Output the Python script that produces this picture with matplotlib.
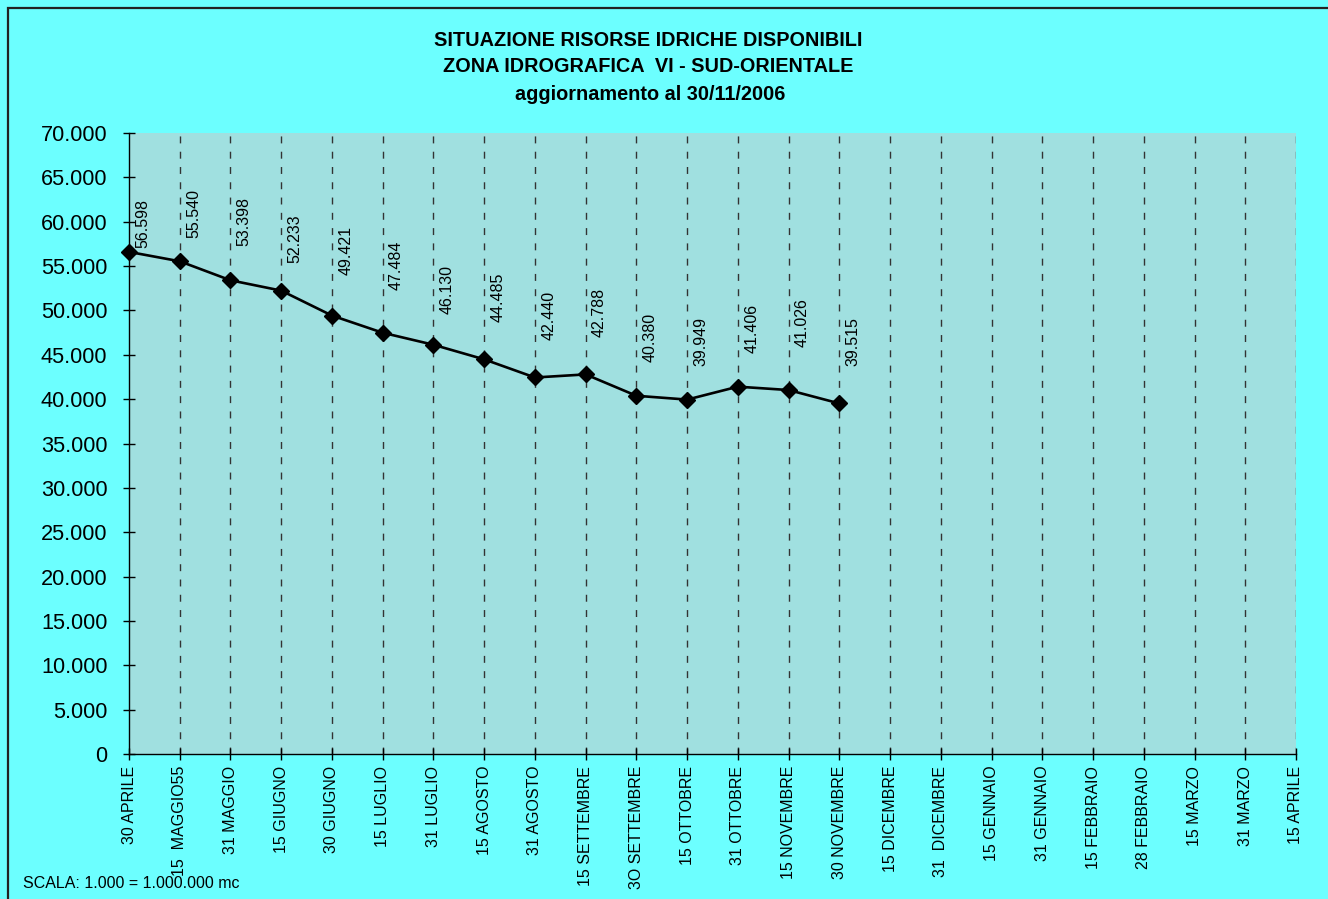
import matplotlib
matplotlib.use('Agg')
import matplotlib.pyplot as plt
from matplotlib.patches import Rectangle
from matplotlib.ticker import FixedLocator, FuncFormatter

plt.rcParams['font.family'] = ['Liberation Sans', 'DejaVu Sans']

# date di rilevazione (asse x)
date_labels = [
    '30 APRILE', '15  MAGGIO55', '31 MAGGIO', '15 GIUGNO', '30 GIUGNO',
    '15 LUGLIO', '31 LUGLIO', '15 AGOSTO', '31 AGOSTO', '15 SETTEMBRE',
    '3O SETTEMBRE', '15 OTTOBRE', '31 OTTOBRE', '15 NOVEMBRE', '30 NOVEMBRE',
    '15 DICEMBRE', '31  DICEMBRE', '15 GENNAIO', '31 GENNAIO', '15 FEBBRAIO',
    '28 FEBBRAIO', '15 MARZO', '31 MARZO', '15 APRILE',
]

# volumi disponibili (scala 1.000 = 1.000.000 mc)
volumi = [56.598, 55.540, 53.398, 52.233, 49.421, 47.484, 46.130, 44.485,
          42.440, 42.788, 40.380, 39.949, 41.406, 41.026, 39.515]

# spostamento verticale delle etichette (punti), come nel foglio originale
label_dy = [3, 17, 25, 20, 29, 31, 22, 27, 27, 27, 24, 24, 24, 31, 27]

FIG_BG = '#6CFFFF'
PLOT_BG = '#A0E0E0'

fig = plt.figure(figsize=(13.28, 8.99), dpi=100, facecolor=FIG_BG)
ax = fig.add_axes([129 / 1328, 1 - 754 / 899, (1296 - 129) / 1328, (754 - 133) / 899])
ax.set_facecolor(PLOT_BG)

xs = list(range(len(date_labels)))

# griglia verticale tratteggiata
for x in xs[1:]:
    ax.axvline(x, color='#333333', lw=1.0, linestyle=(0, (5, 6)), zorder=1)

ax.plot(xs[:len(volumi)], volumi, color='black', lw=1.9, marker='D',
        markersize=8.5, clip_on=False, zorder=3)

for x, v, dy in zip(xs, volumi, label_dy):
    ax.annotate(f'{v:.3f}', (x, v), xytext=(10, dy), textcoords='offset points',
                rotation=90, ha='center', va='bottom', fontsize=11.5)

ax.set_xlim(0, len(date_labels) - 1)
ax.set_ylim(0, 70)
ax.yaxis.set_major_locator(FixedLocator(range(0, 71, 5)))
ax.yaxis.set_major_formatter(FuncFormatter(lambda v, p: '0' if v == 0 else f'{v:.3f}'))
ax.set_xticks(xs)
ax.set_xticklabels(date_labels, rotation=90, va='top', ha='center', fontsize=11.5)

for s in ['top', 'right']:
    ax.spines[s].set_visible(False)
for s in ['left', 'bottom']:
    ax.spines[s].set_color('black')
    ax.spines[s].set_linewidth(1.0)

ax.tick_params(axis='y', direction='inout', length=9, width=1, labelsize=15.7, pad=11)
ax.tick_params(axis='x', direction='inout', length=9, width=1, pad=4)

fig.text(648 / 1328, 1 - 40 / 899, 'SITUAZIONE RISORSE IDRICHE DISPONIBILI',
         ha='center', va='center', fontsize=14.3, fontweight='bold')
fig.text(648 / 1328, 1 - 67 / 899, 'ZONA IDROGRAFICA  VI - SUD-ORIENTALE',
         ha='center', va='center', fontsize=14.3, fontweight='bold')
fig.text(650 / 1328, 1 - 95 / 899, 'aggiornamento al 30/11/2006',
         ha='center', va='center', fontsize=14.3, fontweight='bold')

fig.text(23 / 1328, 1 - 884 / 899, 'SCALA: 1.000 = 1.000.000 mc',
         ha='left', va='center', fontsize=11.5)

# cornice del grafico
fig.patches.append(Rectangle((8 / 1328, -0.1), 1.2, 1.1 - 8 / 899,
                             transform=fig.transFigure, fill=False,
                             edgecolor='#222222', lw=1.6))

fig.savefig('out.png', dpi=100, facecolor=FIG_BG)
